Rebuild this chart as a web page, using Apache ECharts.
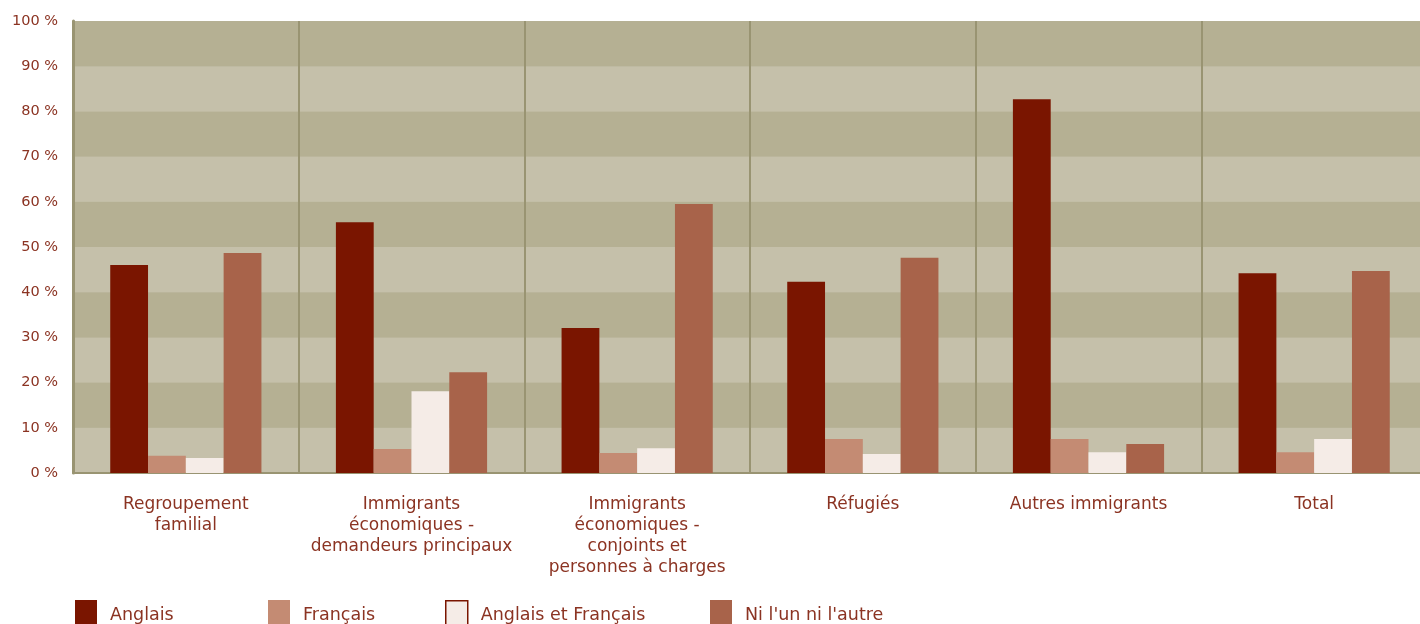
<!DOCTYPE html>
<html>
<head>
<meta charset="utf-8">
<script src="https://cdn.jsdelivr.net/npm/echarts@6/dist/echarts.min.js"></script>
<style>
html,body{margin:0;padding:0;background:#fff;overflow:hidden;width:1420px;height:624px;}
#chart{width:1427px;height:624px;}
</style>
</head>
<body>
<div id="chart"></div>
<script>
const categories = [
  "Regroupement\nfamilial",
  "Immigrants\néconomiques -\ndemandeurs principaux",
  "Immigrants\néconomiques -\nconjoints et\npersonnes à charges",
  "Réfugiés",
  "Autres immigrants",
  "Total"
];
const seriesNames = ["Anglais", "Français", "Anglais et Français", "Ni l'un ni l'autre"];
const anglais   = [46.0, 55.5, 32.1, 42.3, 82.7, 44.2];
const francais  = [3.8, 5.3, 4.4, 7.5, 7.5, 4.6];
const anglaisEtFrancais = [3.3, 18.1, 5.5, 4.2, 4.6, 7.5];
const niLunNiLautre = [48.7, 22.3, 59.5, 47.6, 6.4, 44.7];
const yTicks = [0, 10, 20, 30, 40, 50, 60, 70, 80, 90, 100];

const colors = ["#7a1500", "#c48b73", "#f5ece7", "#a8634a"];
const textColor = "#8b3322";
const fontFamily = "DejaVu Sans";

const chart = echarts.init(document.getElementById('chart'));
const dataSets = [anglais, francais, anglaisEtFrancais, niLunNiLautre];
const legendLeft = [75, 268, 445, 710];

chart.setOption({
  animation: false,
  textStyle: {fontFamily: fontFamily},
  grid: {left: 73, right: 0, top: 21, bottom: 151, containLabel: false,
         show: true, backgroundColor: '#bdb89f', borderWidth: 0},
  legend: seriesNames.map((n, i) => ({
    data: [{name: n, icon: 'rect', itemStyle: i === 2 ? {borderColor: '#7a1500', borderWidth: 1.5} : {}}],
    left: legendLeft[i],
    top: 600,
    padding: 0,
    itemWidth: 22,
    itemHeight: 30,
    itemGap: 14,
    selectedMode: false,
    textStyle: {color: textColor, fontSize: 17.5, fontFamily: fontFamily, padding: [0, 0, 0, 8]}
  })),
  xAxis: {
    type: 'category',
    data: categories,
    axisLine: {lineStyle: {color: '#999472', width: 2}},
    axisTick: {show: false},
    axisLabel: {color: textColor, fontSize: 17, lineHeight: 21, margin: 21, interval: 0},
    splitLine: {show: true, interval: 0, lineStyle: {color: '#999472', width: 2}}
  },
  yAxis: {
    type: 'value',
    min: 0, max: 100, interval: 10,
    axisLine: {show: true, lineStyle: {color: '#999472', width: 3}},
    axisTick: {show: false},
    axisLabel: {color: textColor, fontSize: 14.5, margin: 15, formatter: v => yTicks.includes(v) ? v + ' %' : ''},
    splitLine: {show: false},
    splitArea: {show: true, areaStyle: {color: ['#c5c0aa', '#b5b093']}}
  },
  series: dataSets.map((d, i) => ({
    name: seriesNames[i],
    type: 'bar',
    data: d,
    barGap: '0%',
    barCategoryGap: '33%',
    itemStyle: {color: colors[i]}
  }))
});
</script>
</body>
</html>
